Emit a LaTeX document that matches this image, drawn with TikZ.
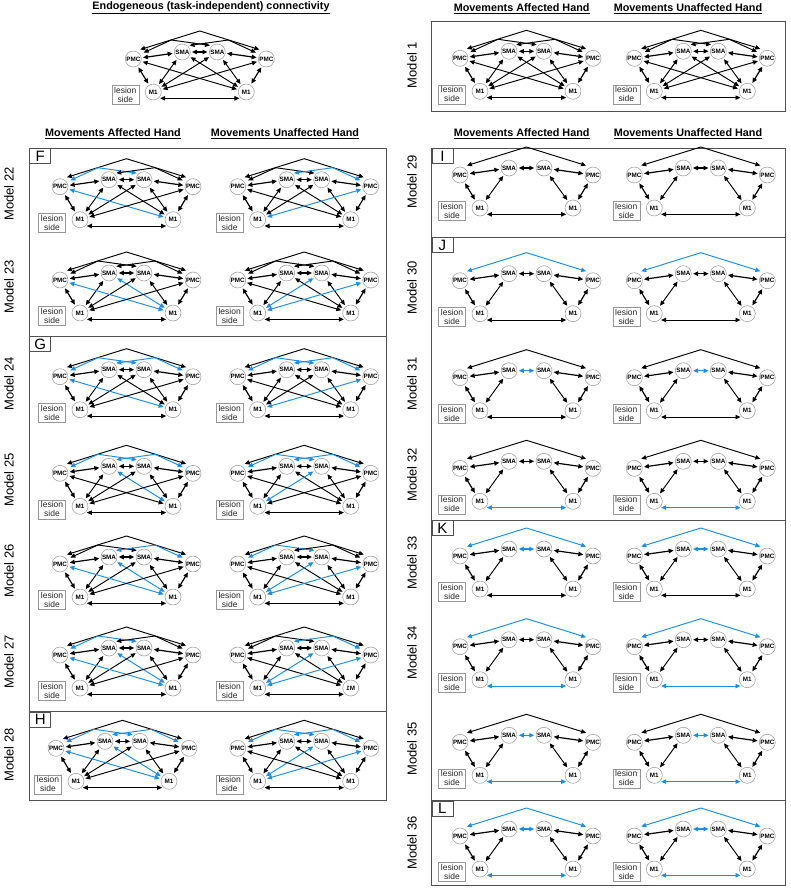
\documentclass[tikz,border=0pt]{standalone}
\usepackage{fontspec}
\setmainfont{Liberation Sans}
\usetikzlibrary{arrows.meta}
\definecolor{hl}{RGB}{30,140,225}
\definecolor{ndgray}{RGB}{150,150,150}
\definecolor{frgray}{RGB}{80,80,80}
\tikzset{
  nd/.style={circle,draw=ndgray,line width=0.5pt,fill=white,minimum size=16pt,inner sep=0pt,
    font=\fontsize{6.3}{7}\selectfont\bfseries},
  lesbox/.style={draw=ndgray,line width=0.5pt,minimum width=27pt,minimum height=19pt,inner sep=0pt,
    align=center,text=black!85,font=\fontsize{8.5}{9.3}\selectfont},
  conn/.style={line width=0.95pt,{Triangle[length=5pt,width=4.4pt]}-{Triangle[length=5pt,width=4.4pt]},
    shorten <=1.5pt,shorten >=1.5pt},
  shortc/.style={line width=1.2pt},
  eApex/.style={}, eTopL/.style={}, eTopR/.style={}, eSS/.style={}, eMM/.style={},
  ePLMR/.style={}, ePRML/.style={}, eSLMR/.style={}, eSRML/.style={},
  blueedge/.style={#1/.style={hl}},
  hd/.style={inner sep=0pt,font=\fontsize{10.8}{12}\selectfont\bfseries},
  mlab/.style={rotate=90,inner sep=0pt,font=\fontsize{13}{15}\selectfont},
  plet/.style={draw=frgray,line width=0.8pt,anchor=north west,minimum width=21pt,minimum height=15pt,
    inner sep=0pt,font=\fontsize{15}{15}\selectfont},
  frame/.style={draw=frgray,line width=0.8pt}
}
\newcommand\netnodes[1]{%
  \node[nd] (PL) at (0,0) {PMC};
  \node[nd] (SL) at (49,-7) {SMA};
  \node[nd] (SR) at (84,-7) {SMA};
  \node[nd] (PR) at (133,0) {PMC};
  \node[nd] (ML) at (20,33) {M1};
  \node[nd] (MR) at (113,33) {#1};
  \node[lesbox] (LB) at (-8,36) {lesion\\side};
  \coordinate (AP) at (66.5,-28);
}
\newcommand\basenet[1]{%
  \netnodes{#1}
  \draw[conn,eApex,shorten <=5pt,shorten >=5pt] (PL.75) -- (AP) -- (PR.105);
  \draw[conn,shortc] (PL) -- (SL);
  \draw[conn,shortc,eSS] (SL) -- (SR);
  \draw[conn,shortc] (SR) -- (PR);
  \draw[conn,shortc] (PL) -- (ML);
  \draw[conn,shortc] (PR) -- (MR);
  \draw[conn] (SL) -- (ML);
  \draw[conn] (SR) -- (MR);
  \draw[conn,eMM] (ML.310) -- (MR.230);
}
\newcommand\fullnet[1][M1]{%
  \basenet{#1}
  \coordinate (BL) at (38,-19);
  \coordinate (BR) at (95,-19);
  \draw[conn,eTopL,shorten <=4pt,shorten >=2pt] (PL.35) -- (BL) -- (SR.130);
  \draw[conn,eTopR,shorten <=4pt,shorten >=2pt] (PR.145) -- (BR) -- (SL.50);
  \draw[conn,eSLMR] (SL) -- (MR);
  \draw[conn,eSRML] (SR) -- (ML);
  \draw[conn,ePLMR] (PL) -- (MR);
  \draw[conn,ePRML] (PR) -- (ML);
}
\newcommand\placefull[4]{\begin{scope}[shift={(#1,#2)},name prefix=#3-,#4]\fullnet\end{scope}}
\newcommand\placered[4]{\begin{scope}[shift={(#1,#2)},name prefix=#3-,#4]\basenet{M1}\end{scope}}
\begin{document}
\begin{tikzpicture}[x=1pt,y=-1pt]
\useasboundingbox (0,0) rectangle (790,889);
\fill[white] (0,0) rectangle (790,889);

% headings
\node[hd] (h0) at (211,8) {\underline{Endogeneous (task-independent) connectivity}};
\node[hd] (h1) at (521.7,9) {\underline{Movements Affected Hand}};
\node[hd] (h2) at (688,9) {\underline{Movements Unaffected Hand}};
\node[hd] (h3) at (113,134) {\underline{Movements Affected Hand}};
\node[hd] (h4) at (285,134) {\underline{Movements Unaffected Hand}};
\node[hd] (h5) at (521.7,134) {\underline{Movements Affected Hand}};
\node[hd] (h6) at (688,134) {\underline{Movements Unaffected Hand}};

% frames
\draw[frame] (431.5,21.7) rectangle (785,111);
\draw[frame] (29.3,148.3) rectangle (386,800.7);
\draw[frame] (29.3,336) -- (386,336);
\draw[frame] (29.3,711.7) -- (386,711.7);
\draw[frame] (431.5,148.3) rectangle (785,885.7);
\draw[frame] (431.5,237.3) -- (785,237.3);
\draw[frame] (431.5,520) -- (785,520);
\draw[frame] (431.5,800.7) -- (785,800.7);

% panel letters
\node[plet] (pF) at (29.3,148.3) {F};
\node[plet] (pG) at (29.3,336) {G};
\node[plet] (pH) at (29.3,711.7) {H};
\node[plet] (pI) at (431.5,148.3) {I};
\node[plet] (pJ) at (431.5,237.3) {J};
\node[plet] (pK) at (431.5,520) {K};
\node[plet] (pL) at (431.5,800.7) {L};

% model labels
\node[mlab] (l1) at (412,65) {Model 1};
\node[mlab] (l22) at (9,194) {Model 22};
\node[mlab] (l23) at (9,287) {Model 23};
\node[mlab] (l24) at (9,384) {Model 24};
\node[mlab] (l25) at (9,480) {Model 25};
\node[mlab] (l26) at (9,571) {Model 26};
\node[mlab] (l27) at (9,662) {Model 27};
\node[mlab] (l28) at (9,755) {Model 28};
\node[mlab] (l29) at (412,182) {Model 29};
\node[mlab] (l30) at (412,288) {Model 30};
\node[mlab] (l31) at (412,384) {Model 31};
\node[mlab] (l32) at (412,475) {Model 32};
\node[mlab] (l33) at (412,563) {Model 33};
\node[mlab] (l34) at (412,653) {Model 34};
\node[mlab] (l35) at (412,749) {Model 35};
\node[mlab] (l36) at (412,843) {Model 36};

% networks
\placefull{133.3}{59}{top}{}
\placefull{460}{58.3}{m1a}{}
\placefull{634.3}{58.3}{m1u}{}

\placefull{60}{186.7}{m22a}{blueedge=eTopL,blueedge=ePLMR}
\placefull{237.7}{186.7}{m22u}{blueedge=eTopR,blueedge=ePRML}
\placefull{60}{280}{m23a}{blueedge=ePLMR,blueedge=eSLMR}
\placefull{237.7}{280}{m23u}{blueedge=eSRML,blueedge=ePRML}
\placefull{60}{376.7}{m24a}{blueedge=eTopL,blueedge=eTopR,blueedge=ePLMR}
\placefull{237.7}{376.7}{m24u}{blueedge=eTopL,blueedge=eTopR,blueedge=ePRML}
\placefull{60}{473.3}{m25a}{blueedge=eTopL,blueedge=eTopR,blueedge=eSLMR}
\placefull{237.7}{473.3}{m25u}{blueedge=eTopL,blueedge=eTopR,blueedge=eSRML}
\placefull{60}{564}{m26a}{blueedge=eTopR,blueedge=ePLMR,blueedge=eSLMR}
\placefull{237.7}{564}{m26u}{blueedge=eTopL,blueedge=eSRML,blueedge=ePRML}
\placefull{60}{655}{m27a}{blueedge=eTopL,blueedge=ePLMR,blueedge=eSLMR}
\begin{scope}[shift={(237.7,655)},name prefix=m27u-,blueedge=eTopR,blueedge=eSRML,blueedge=ePRML]
\fullnet[\reflectbox{M1}]
\end{scope}
\placefull{56}{748.3}{m28a}{blueedge=eTopL,blueedge=eTopR,blueedge=ePLMR,blueedge=eSLMR}
\placefull{237.7}{748.3}{m28u}{blueedge=eTopL,blueedge=eTopR,blueedge=eSRML,blueedge=ePRML}

\placered{460}{175}{m29a}{}
\placered{634.3}{175}{m29u}{}
\placered{460}{280.7}{m30a}{blueedge=eApex}
\placered{634.3}{280.7}{m30u}{blueedge=eApex}
\placered{460}{377.7}{m31a}{blueedge=eSS}
\placered{634.3}{377.7}{m31u}{blueedge=eSS}
\placered{460}{468.3}{m32a}{blueedge=eMM}
\placered{634.3}{468.3}{m32u}{blueedge=eMM}
\placered{460}{556}{m33a}{blueedge=eApex,blueedge=eSS}
\placered{634.3}{556}{m33u}{blueedge=eApex,blueedge=eSS}
\placered{460}{646.7}{m34a}{blueedge=eApex,blueedge=eMM}
\placered{634.3}{646.7}{m34u}{blueedge=eApex,blueedge=eMM}
\placered{460}{742.3}{m35a}{blueedge=eSS,blueedge=eMM}
\placered{634.3}{742.3}{m35u}{blueedge=eSS,blueedge=eMM}
\placered{460}{836}{m36a}{blueedge=eApex,blueedge=eSS,blueedge=eMM}
\placered{634.3}{836}{m36u}{blueedge=eApex,blueedge=eSS,blueedge=eMM}
\end{tikzpicture}
\end{document}
